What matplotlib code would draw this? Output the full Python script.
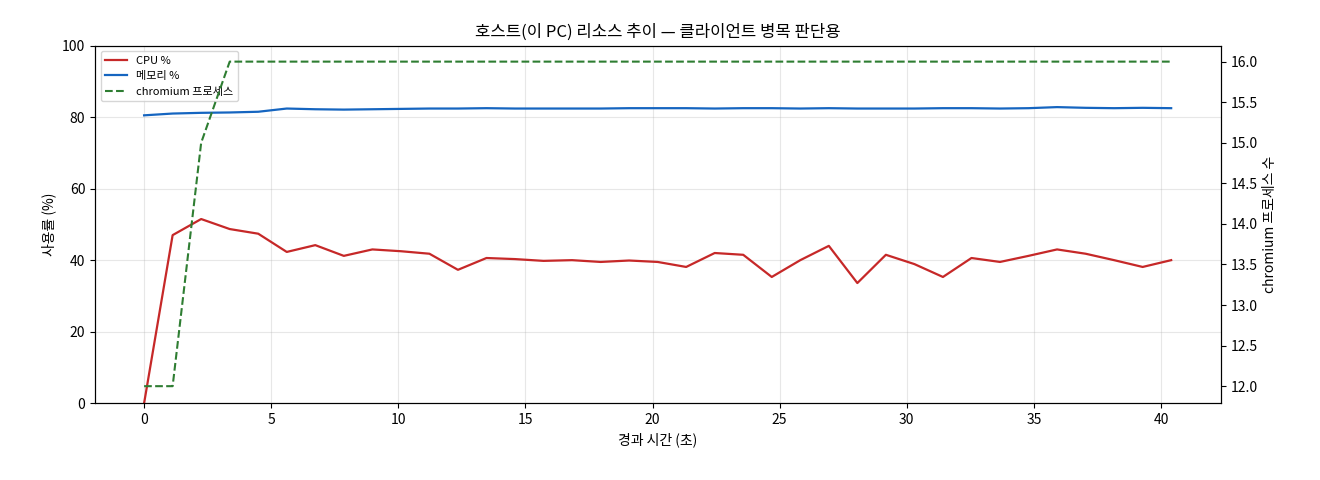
import matplotlib
matplotlib.use("Agg")
import matplotlib.pyplot as plt
import numpy as np

plt.rcParams['font.family'] = ['Noto Sans CJK KR', 'DejaVu Sans']

cpu = [0, 47, 51.5, 48.7, 47.4, 42.3, 44.2, 41.2, 43, 42.5, 41.8, 37.3, 40.6, 40.3, 39.8, 40,
       39.5, 39.9, 39.5, 38.1, 42, 41.5, 35.3, 40, 44, 33.6, 41.5, 38.9, 35.3, 40.6, 39.5,
       41.2, 43, 41.8, 40, 38.1, 40]
mem = [80.5, 81.0, 81.2, 81.3, 81.5, 82.4, 82.2, 82.1, 82.2, 82.3, 82.4, 82.4, 82.5, 82.4, 82.4, 82.4,
       82.4, 82.5, 82.5, 82.5, 82.4, 82.5, 82.5, 82.4, 82.5, 82.4, 82.4, 82.4, 82.5, 82.5, 82.4,
       82.5, 82.8, 82.6, 82.5, 82.6, 82.5]
proc = [12, 12, 15, 16] + [16] * 33
t = np.arange(len(cpu)) * (40.4 / 36)

fig, ax = plt.subplots(figsize=(13.2, 4.8), dpi=100)
fig.subplots_adjust(left=0.072, right=0.925, top=0.905, bottom=0.16)
ax.plot(t, cpu, color='#c62828', lw=1.6, label='CPU %')
ax.plot(t, mem, color='#1565c0', lw=1.6, label='메모리 %')
ax.set_ylim(0, 100)
ax.set_xlim(-1.93, 42.36)
ax.set_xlabel('경과 시간 (초)')
ax.set_ylabel('사용률 (%)')
ax.grid(alpha=0.3)
ax.set_title('호스트(이 PC) 리소스 추이 — 클라이언트 병목 판단용')
ax2 = ax.twinx()
ax2.plot(t, proc, color='#2e7d32', lw=1.5, ls='--', label='chromium 프로세스')
ax2.set_ylim(12 - 17/81, 16 + 16/81)
ax2.set_ylabel('chromium 프로세스 수')
h1, l1 = ax.get_legend_handles_labels()
h2, l2 = ax2.get_legend_handles_labels()
ax.legend(h1 + h2, l1 + l2, loc='upper left', fontsize=8)
fig.savefig('out.png')
